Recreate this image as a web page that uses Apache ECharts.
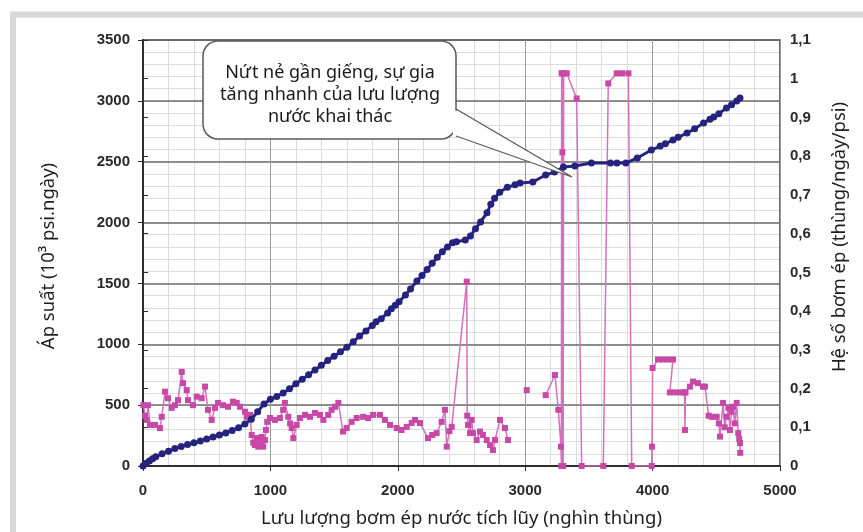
<!DOCTYPE html>
<html>
<head>
<meta charset="utf-8">
<script src="https://cdn.jsdelivr.net/npm/echarts@6/dist/echarts.min.js"></script>
<style>
  html, body { margin: 0; padding: 0; background: #ffffff; }
  #chart { width: 863px; height: 532px; }
</style>
</head>
<body>
<div id="chart"></div>
<script>
// Cumulative pressure (left axis, 10^3 psi.day) against cumulative water injected
const pressureX = [0,25,50,75,100,150,200,250,300,350,400,450,500,550,600,650,700,750,800,850,900,950,1000,1050,1100,1150,1200,1250,1300,1350,1400,1450,1500,1550,1600,1650,1700,1750,1800,1830,1870,1920,1950,1980,2010,2060,2100,2150,2190,2230,2270,2310,2350,2390,2430,2460,2530,2570,2610,2650,2700,2730,2760,2800,2860,2920,2960,3060,3160,3230,3300,3390,3520,3670,3720,3790,3880,3990,4060,4100,4160,4200,4270,4330,4400,4450,4480,4520,4580,4620,4660,4686];
const pressureY = [0,22,42,60,76,100,122,143,160,176,190,205,222,238,255,272,292,315,345,385,445,510,548,572,600,635,675,712,750,788,828,866,902,938,975,1020,1068,1110,1155,1185,1210,1258,1292,1320,1350,1405,1455,1520,1565,1615,1665,1715,1760,1800,1835,1842,1857,1890,1950,2005,2080,2150,2200,2250,2290,2310,2325,2333,2391,2415,2457,2465,2489,2489,2489,2489,2531,2596,2629,2648,2678,2700,2736,2770,2818,2848,2867,2895,2941,2968,2998,3023];

// Injectivity index (right axis, bbl/day/psi); null marks a gap in the record
const injX = [3,16,28,40,55,94,133,147,173,196,225,251,275,304,314,343,353,392,421,461,487,510,539,565,589,628,667,706,736,761,801,814,840,853,866,879,892,905,918,931,944,957,965,975,997,1036,1075,1100,1114,1140,1155,1167,1180,1206,1232,1272,1311,1350,1389,1415,1454,1481,1507,1533,1570,1599,1638,1677,1728,1767,1806,1860,1899,1939,1991,2030,2070,2109,2135,2174,2237,2270,2305,2344,2370,2384,2405,2423,2541,2545,2551,2567,2580,2590,2619,2645,2669,2698,2724,2747,2763,2802,2841,2865,2940,3012,3090,3161,3234,3260,3281,3284,3286,3289,3292,3295,3298,3302,3326,3404,3443,3613,3652,3718,3760,3810,3836,3993,3995,4000,4042,4080,4120,4160,4135,4175,4215,4250,4254,4258,4293,4317,4356,4395,4411,4440,4464,4503,4520,4529,4553,4566,4581,4595,4607,4620,4631,4645,4660,4672,4680,4686,4688];
const injY = [0.157,0.13,0.119,0.157,0.106,0.106,0.098,0.127,0.192,0.175,0.15,0.157,0.17,0.243,0.214,0.196,0.17,0.157,0.179,0.175,0.205,0.145,0.119,0.15,0.163,0.157,0.153,0.166,0.163,0.153,0.14,0.127,0.132,0.08,0.06,0.054,0.072,0.05,0.059,0.075,0.05,0.067,0.093,0.114,0.124,0.119,0.124,0.145,0.163,0.127,0.11,0.098,0.072,0.106,0.124,0.132,0.127,0.137,0.132,0.119,0.132,0.145,0.153,0.163,0.089,0.098,0.114,0.124,0.127,0.124,0.132,0.132,0.119,0.106,0.098,0.093,0.101,0.111,0.119,0.111,0.072,0.08,0.085,0.114,0.145,0.05,0.09,0.101,0.476,0.13,0.106,0.085,0.119,0.085,0.067,0.089,0.08,0.067,0.054,0.041,0.067,0.119,0.098,0.067,null,0.196,null,0.183,0.235,0.145,0.05,0,1.014,0,0.81,1.014,0,1.014,1.014,0.949,0,0,0.988,1.014,1.014,1.014,0,0,0.05,0.253,0.275,0.275,0.275,0.275,0.19,0.19,0.19,0.19,0.093,0.19,0.205,0.218,0.214,0.205,0.205,0.13,0.127,0.127,0.11,0.076,0.163,0.1,0.127,0.15,0.093,0.14,0.153,0.11,0.163,0.085,0.07,0.059,0.034];

const xTitle = 'Lưu lượng bơm ép nước tích lũy (nghìn thùng)';
const leftTitle = 'Áp suất (10³ psi.ngày)';
const rightTitle = 'Hệ số bơm ép (thùng/ngày/psi)';
const calloutLines = ['Nứt nẻ gần giếng, sự gia', 'tăng nhanh của lưu lượng', 'nước khai thác'];

const tickFont = { fontFamily: '"Liberation Sans", Arial, sans-serif', fontWeight: 700, fontSize: 15, color: '#2a2a2a' };
const titleFont = { fontFamily: '"Noto Sans", "Open Sans", sans-serif', fontSize: 18.5, color: '#1e1e1e' };
const titleCss = '18.5px "Noto Sans", "Open Sans", sans-serif';

// helper for the fine background grid axes (only their split lines are drawn)
const fineGridAxis = (extra) => Object.assign({
  type: 'value', show: true, z: -1,
  axisLine: { show: false }, axisTick: { show: false }, axisLabel: { show: false },
  splitLine: { show: true, lineStyle: { color: '#dcdcdc', width: 1 } }
}, extra);

const chart = echarts.init(document.getElementById('chart'), null, { renderer: 'canvas' });

chart.setOption({
  animation: false,
  backgroundColor: '#ffffff',
  grid: { left: 143, right: 83, top: 40, bottom: 66, outerBoundsMode: 'none',
          show: true, borderColor: '#3a3a3a', borderWidth: 1.5, backgroundColor: 'transparent' },
  xAxis: [
    {
      type: 'value', min: 0, max: 5000, interval: 1000,
      name: xTitle, nameLocation: 'middle', nameGap: 43, nameTextStyle: titleFont,
      axisLine: { show: true, lineStyle: { color: '#2e2e2e', width: 2 } },
      axisTick: { show: true, length: 5, lineStyle: { color: '#2e2e2e' } },
      axisLabel: Object.assign({ margin: 17, formatter: v => String(v) }, tickFont),
      splitLine: { show: true, lineStyle: { color: '#9c9c9c', width: 1 } }
    },
    fineGridAxis({ min: 0, max: 5000, interval: 200, position: 'top' })
  ],
  yAxis: [
    {
      type: 'value', min: 0, max: 3500, interval: 500, position: 'left',
      axisLine: { show: true, lineStyle: { color: '#2e2e2e', width: 2 } },
      axisTick: { show: true, length: 5, lineStyle: { color: '#2e2e2e' } },
      axisLabel: Object.assign({ margin: 13, formatter: v => String(v) }, tickFont),
      splitLine: { show: true, lineStyle: { color: '#6e6e6e', width: 1.5 } }
    },
    {
      type: 'value', min: 0, max: 1.1, interval: 0.1, position: 'right',
      axisLine: { show: true, lineStyle: { color: '#2e2e2e', width: 2 } },
      axisTick: { show: true, length: 5, lineStyle: { color: '#2e2e2e' } },
      axisLabel: Object.assign({
        margin: 10,
        formatter: v => String(Math.round(v * 10) / 10).replace('.', ',')
      }, tickFont),
      splitLine: { show: false }
    },
    fineGridAxis({ min: 0, max: 3500, interval: 100, position: 'left' })
  ],
  series: [
    {
      name: 'Hệ số bơm ép', type: 'line', yAxisIndex: 1,
      data: injX.map((x, i) => [x, injY[i]]),
      connectNulls: false,
      symbol: 'rect', symbolSize: 6,
      itemStyle: { color: '#c848a8' },
      lineStyle: { color: '#d570bd', width: 1.5 },
      z: 2
    },
    {
      name: 'Áp suất', type: 'line', yAxisIndex: 0,
      data: pressureX.map((x, i) => [x, pressureY[i]]),
      symbol: 'circle', symbolSize: 7,
      itemStyle: { color: '#26237e' },
      lineStyle: { color: '#26237e', width: 3 },
      z: 3
    }
  ],
  graphic: [
    // light grey frame around the panel
    { type: 'rect', silent: true, z: 0,
      shape: { x: 13, y: 14.5, width: 900, height: 600 },
      style: { fill: 'none', stroke: '#d8d8d8', lineWidth: 6 } },
    // axis titles
    { type: 'text', z: 50, x: 49, y: 256, rotation: Math.PI / 2,
      style: { text: leftTitle, align: 'center', verticalAlign: 'middle', font: titleCss, fill: '#1e1e1e' } },
    { type: 'text', z: 50, x: 840, y: 237, rotation: Math.PI / 2,
      style: { text: rightTitle, align: 'center', verticalAlign: 'middle', font: titleCss, fill: '#1e1e1e' } },
    // callout box with its pointer
    { type: 'rect', z: 100,
      shape: { x: 203, y: 41, width: 253, height: 98, r: 15 },
      style: { fill: '#ffffff', stroke: '#5a5a5a', lineWidth: 1.5 } },
    { type: 'polygon', z: 101,
      shape: { points: [[453, 109], [572, 177], [453, 136]] },
      style: { fill: '#ffffff', stroke: 'none' } },
    { type: 'polyline', z: 102,
      shape: { points: [[456, 109], [572, 177], [456, 136]] },
      style: { fill: 'none', stroke: '#5a5a5a', lineWidth: 1.3 } },
    { type: 'text', z: 103,
      x: 330, y: 95,
      style: {
        text: calloutLines.join('\n'),
        align: 'center', verticalAlign: 'middle',
        font: '18px "Noto Sans", "Open Sans", sans-serif',
        lineHeight: 22, fill: '#1a1a1a'
      } }
  ]
});
</script>
</body>
</html>
